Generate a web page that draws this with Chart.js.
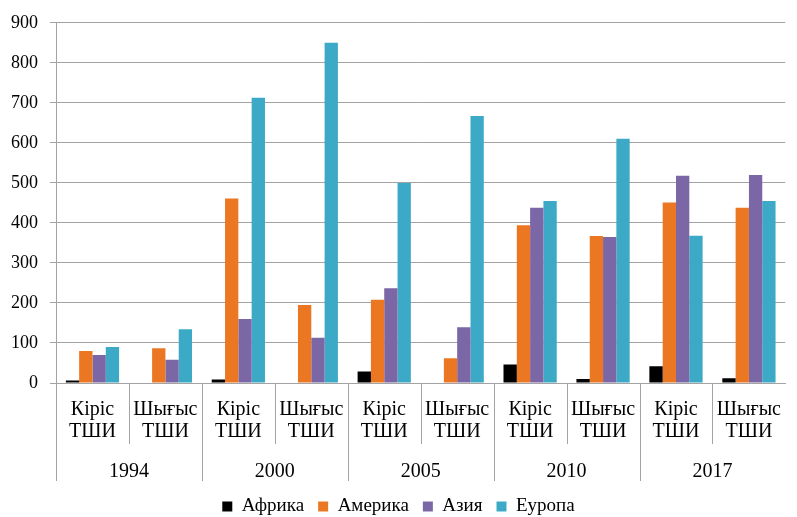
<!DOCTYPE html>
<html>
<head>
<meta charset="utf-8">
<script src="https://cdn.jsdelivr.net/npm/chart.js@4.4.1/dist/chart.umd.min.js"></script>
<style>
  html, body { margin: 0; padding: 0; background: #ffffff; }
  #fontprime {
    position: absolute; left: -10000px; top: 0;
    font-family: "Liberation Serif", serif; font-size: 20px; white-space: nowrap;
  }
</style>
</head>
<body>
<div id="fontprime">Кіріс Шығыс ТШИ 0123456789 Африка Америка Азия Еуропа</div>
<canvas id="c" width="797" height="517"></canvas>
<script>
// Inward / outward FDI by region, grouped per year
const categories = [
  ['Кіріс', 'ТШИ'], ['Шығыс', 'ТШИ'],
  ['Кіріс', 'ТШИ'], ['Шығыс', 'ТШИ'],
  ['Кіріс', 'ТШИ'], ['Шығыс', 'ТШИ'],
  ['Кіріс', 'ТШИ'], ['Шығыс', 'ТШИ'],
  ['Кіріс', 'ТШИ'], ['Шығыс', 'ТШИ']
];
const years = ['1994', '2000', '2005', '2010', '2017'];
const seriesNames = ['Африка', 'Америка', 'Азия', 'Еуропа'];

const africa  = [6, 1.5, 9, 1.5, 29, 1.5, 46, 10, 42, 12];
const america = [80, 87, 461, 195, 208, 62, 394, 367, 451, 438];
const asia    = [70, 58, 160, 113, 237, 139, 438, 365, 518, 520];
const europe  = [90, 134, 713, 850, 500, 667, 455, 610, 368, 455];

const yMin = 0, yMax = 900, yStep = 100;

const colors = ['#000000', '#EB7723', '#7B66A6', '#3CAAC6'];
const axisGray = '#A3A3A3';
const fam = '"Liberation Serif", serif';

// lay out some text in the serif face first so the font is resolved before the canvas measures
const prime = document.getElementById('fontprime');
void prime.offsetWidth;
void prime.getBoundingClientRect();

// Vertical separators between categories and between year groups
const separators = {
  id: 'separators',
  afterDraw(chart) {
    const x = chart.scales.x;
    const x2 = chart.scales.x2;
    const ctx = chart.ctx;
    const n = categories.length;
    const step = (x.right - x.left) / n;
    ctx.save();
    ctx.strokeStyle = axisGray;
    ctx.lineWidth = 1;
    for (let i = 0; i < n; i++) {
      const px = Math.round(x.getPixelForValue(i) - step / 2) + 0.5;
      const bottom = i % 2 === 0 ? x2.top + 37 : x.bottom;
      ctx.beginPath();
      ctx.moveTo(px, x.top);
      ctx.lineTo(px, bottom);
      ctx.stroke();
    }
    ctx.restore();
  }
};

Chart.defaults.font.family = fam;

const data = {
  labels: categories,
  datasets: [africa, america, asia, europe].map((vals, i) => ({
    label: seriesNames[i],
    data: vals,
    backgroundColor: colors[i],
    borderWidth: 0,
    xAxisID: 'x',
    yAxisID: 'y',
    categoryPercentage: 0.73,
    barPercentage: 1.0
  }))
};

const chart = new Chart(document.getElementById('c'), {
  type: 'bar',
  data,
  plugins: [separators],
  options: {
    responsive: false,
    animation: false,
    layout: { padding: { top: 18, right: 0, bottom: -9, left: 0 } },
    plugins: {
      tooltip: { enabled: false },
      legend: {
        position: 'bottom',
        labels: {
          color: '#000000',
          font: { family: fam, size: 19 },
          boxWidth: 10,
          boxHeight: 10,
          padding: 14
        }
      }
    },
    scales: {
      x: {
        type: 'category',
        position: 'bottom',
        grid: { display: false, drawTicks: false },
        border: { display: true, color: axisGray },
        ticks: {
          color: '#000000',
          font: { family: fam, size: 20, lineHeight: 1.1 },
          padding: 16,
          maxRotation: 0,
          autoSkip: false
        },
        afterFit(scale) { scale.height = 61; }
      },
      x2: {
        type: 'category',
        position: 'bottom',
        labels: years,
        offset: true,
        grid: { display: false, drawTicks: false },
        border: { display: false },
        ticks: {
          color: '#000000',
          font: { family: fam, size: 20, lineHeight: 1.1 },
          padding: 17,
          maxRotation: 0,
          autoSkip: false
        },
        afterFit(scale) { scale.height = 39; }
      },
      y: {
        min: yMin,
        max: yMax,
        ticks: {
          stepSize: yStep,
          color: '#000000',
          font: { family: fam, size: 18 },
          padding: 12
        },
        grid: { color: axisGray, lineWidth: 1, tickLength: 6 },
        border: { display: true, color: axisGray },
        afterFit(scale) { scale.width = 56; }
      }
    }
  }
});

// redraw a few times so every label is measured and painted with the serif face
function refresh() { chart.update('none'); }
refresh();
if (document.fonts && document.fonts.ready) document.fonts.ready.then(refresh);
window.addEventListener('load', () => { refresh(); requestAnimationFrame(refresh); });
[30, 120, 400].forEach((ms) => setTimeout(refresh, ms));
</script>
</body>
</html>
